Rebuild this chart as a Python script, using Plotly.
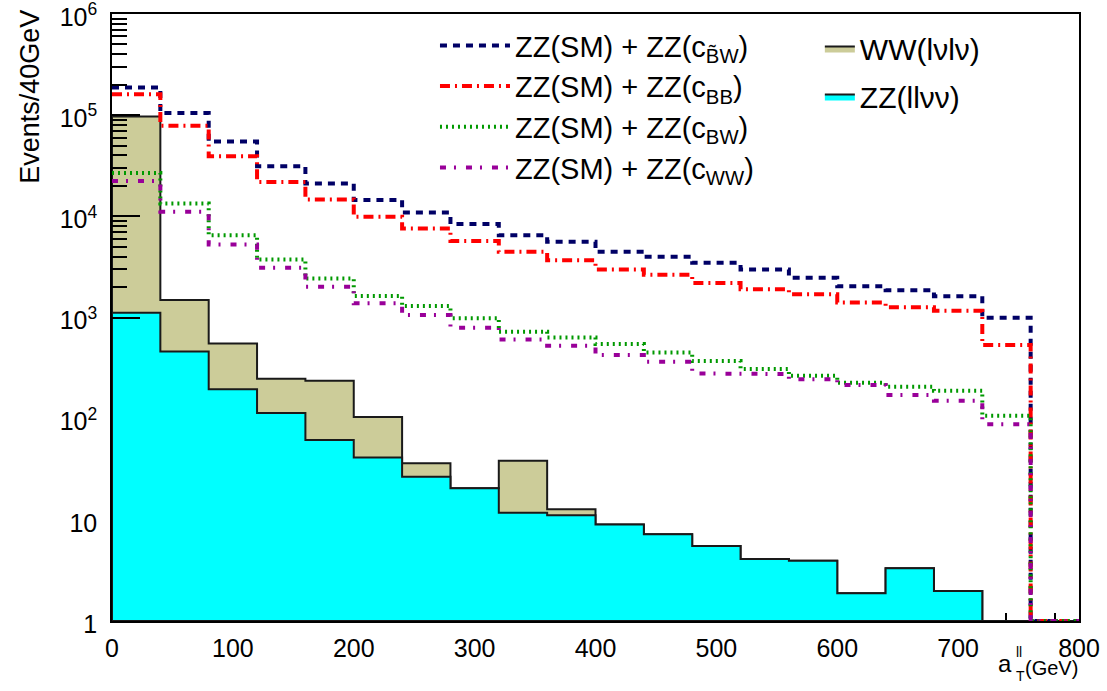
import numpy as np
import plotly.graph_objects as go

# ---------------- data ----------------
bin_edges = list(range(0, 801, 40))          # 20 bins of 40 GeV, 0..800

zz_llvv = [1114, 462, 195, 114, 61.5, 41.4, 26.7, 20.5, 11.75, 11.1,
           9.0, 7.2, 5.5, 4.1, 3.95, 1.88, 3.32, 1.98, 0, 0]
ww_lvlv = [95900, 1028, 360, 134, 175, 62.6, 9.5, 0, 26.7, 1.6,
           0, 0, 0, 0, 0, 0, 0, 0, 0, 0]

sm_cBWt = [188000, 105000, 55000, 31300, 21100, 14500, 10900, 8400, 6520, 5600,
           4460, 3980, 3470, 2990, 2470, 2040, 1865, 1627, 993, 0]
sm_cBB = [161000, 78500, 39300, 21900, 14700, 9900, 7600, 5700, 4460, 3690,
          2990, 2640, 2200, 1900, 1700, 1410, 1260, 1165, 534, 0]
sm_cBW = [26900, 13400, 6500, 3750, 2430, 1630, 1300, 986, 722, 636,
          546, 452, 371, 309, 265, 226, 207, 189, 107, 0]
sm_cWW = [22400, 11100, 5280, 3100, 2010, 1380, 1060, 791, 608, 525,
          425, 365, 280, 276, 246, 215, 171, 150, 88, 0]

y_tickvals = [1, 10, 100, 1e3, 1e4, 1e5, 1e6]
y_ticktext = ["1", "10", "10<sup>2</sup>", "10<sup>3</sup>", "10<sup>4</sup>",
              "10<sup>5</sup>", "10<sup>6</sup>"]
x_tickvals = [0, 100, 200, 300, 400, 500, 600, 700, 800]

names_lines = ["ZZ(SM) + ZZ(c<sub>B\u0303W</sub>)",
               "ZZ(SM) + ZZ(c<sub>BB</sub>)",
               "ZZ(SM) + ZZ(c<sub>BW</sub>)",
               "ZZ(SM) + ZZ(c<sub>WW</sub>)"]
names_fills = ["WW(l\u03bdl\u03bd)", "ZZ(ll\u03bd\u03bd)"]

# ---------------- helpers ----------------
YMIN = 1.0
FONT = "Liberation Sans, Arial, Helvetica, sans-serif"


def step_xy(values):
    xs, ys = [], []
    for i, v in enumerate(values):
        v = max(v, YMIN)
        xs += [bin_edges[i], bin_edges[i + 1]]
        ys += [v, v]
    return xs, ys


def fill_xy(values):
    xs, ys = step_xy(values)
    return [bin_edges[0]] + xs + [bin_edges[-1], bin_edges[0]], [YMIN] + ys + [YMIN, YMIN]


fig = go.Figure()

stack_total = [a + b for a, b in zip(zz_llvv, ww_lvlv)]
fx, fy = fill_xy(stack_total)
fig.add_trace(go.Scatter(x=fx, y=fy, mode="lines", fill="toself", fillcolor="#cccc99",
                         line=dict(color="#1a1a1a", width=2), name=names_fills[0],
                         legend="legend2", legendgroup="ww", hoverinfo="skip"))
fx, fy = fill_xy(zz_llvv)
fig.add_trace(go.Scatter(x=fx, y=fy, mode="lines", fill="toself", fillcolor="#00ffff",
                         line=dict(color="#1a1a1a", width=2), name=names_fills[1],
                         legend="legend2", legendgroup="zz", hoverinfo="skip"))

line_series = [sm_cBWt, sm_cBB, sm_cBW, sm_cWW]
line_colors = ["#000066", "#ff0000", "#009900", "#990099"]
line_dashes = ["7px,6px", "10px,5px,2px,5px", "2px,4px", "6px,8px,2px,10px"]
for vals, col, dash, nm in zip(line_series, line_colors, line_dashes, names_lines):
    sx, sy = step_xy(vals)
    fig.add_trace(go.Scatter(x=sx, y=sy, mode="lines",
                             line=dict(color=col, width=4, dash=dash),
                             name=nm, legend="legend", hoverinfo="skip"))

# helper (empty) trace so the overlaid tick axis is drawn above the filled areas
fig.add_trace(go.Scatter(x=[None], y=[None], yaxis="y2", mode="lines",
                         showlegend=False, hoverinfo="skip"))

minor_y = [m * 10 ** d for d in range(0, 6) for m in range(2, 10)]
minor_y_hi = [v for v in minor_y if v > 1e3]

fig.update_layout(
    width=1107, height=691,
    margin=dict(l=112, r=28, t=14, b=70, autoexpand=False),
    paper_bgcolor="white", plot_bgcolor="white",
    font=dict(family=FONT, size=25, color="black"),
    xaxis=dict(range=[0, 800], tickvals=x_tickvals, ticks="inside", ticklen=16,
               tickwidth=1.5, tickcolor="black", automargin=False,
               minor=dict(ticks="inside", ticklen=8, dtick=20, tick0=0, tickcolor="black",
                          tickwidth=1.5),
               showline=True, mirror=True, linecolor="black", linewidth=1.5,
               showgrid=False, zeroline=False, layer="below traces",
               tickfont=dict(size=25), ticklabelstandoff=4, ticklabeloverflow="allow"),
    yaxis=dict(type="log", range=[0, 6.0003], tickvals=y_tickvals, ticktext=y_ticktext,
               ticks="inside", ticklen=28, tickwidth=1.5, tickcolor="black",
               automargin=False,
               minor=dict(ticks="inside", ticklen=15, tickvals=minor_y, tickcolor="black",
                          tickwidth=1.5),
               showline=True, mirror=True, linecolor="black", linewidth=1.5,
               showgrid=False, zeroline=False, layer="below traces",
               tickfont=dict(size=25), ticklabelstandoff=8, ticklabelshift=3,
               ticklabeloverflow="allow"),
    yaxis2=dict(type="log", range=[0, 6.0003], overlaying="y", side="left",
                tickvals=[1e3, 1e4, 1e5], showticklabels=False, automargin=False,
                ticks="inside", ticklen=28, tickwidth=1.5, tickcolor="black",
                minor=dict(ticks="inside", ticklen=15, tickvals=minor_y_hi,
                           tickcolor="black", tickwidth=1.5),
                showline=False, showgrid=False, zeroline=False, layer="above traces"),
    legend=dict(x=0.334, y=0.99, xanchor="left", yanchor="top",
                font=dict(size=29, family=FONT, color="black"),
                bgcolor="rgba(0,0,0,0)", borderwidth=0, itemwidth=70,
                tracegroupgap=0, traceorder="normal"),
    legend2=dict(x=0.732, y=0.986, xanchor="left", yanchor="top",
                 font=dict(size=30, family=FONT, color="black"),
                 bgcolor="rgba(0,0,0,0)", borderwidth=0, itemwidth=30,
                 tracegroupgap=6, traceorder="grouped"),
    showlegend=True,
)

# axis titles (ROOT style: aligned at axis ends)
fig.add_annotation(text="Events/40GeV", textangle=-90, xref="paper", yref="paper",
                   x=-0.085, y=1.01, xanchor="center", yanchor="top", showarrow=False,
                   font=dict(size=27, family=FONT, color="black"))
fig.add_annotation(text="(GeV)", xref="paper", yref="paper", x=1.001, y=-0.0774,
                   xanchor="right", yanchor="middle", showarrow=False,
                   font=dict(size=20, family=FONT, color="black"))
fig.add_annotation(text="a", xref="paper", yref="paper", x=0.9325, y=-0.0708,
                   xanchor="right", yanchor="middle", showarrow=False,
                   font=dict(size=24, family=FONT, color="black"))
fig.add_annotation(text="ll", xref="paper", yref="paper", x=0.9325, y=-0.051,
                   xanchor="left", yanchor="middle", showarrow=False,
                   font=dict(size=14, family=FONT, color="black"))
fig.add_annotation(text="T", xref="paper", yref="paper", x=0.9325, y=-0.0906,
                   xanchor="left", yanchor="middle", showarrow=False,
                   font=dict(size=14, family=FONT, color="black"))

fig.write_html("out.html")
